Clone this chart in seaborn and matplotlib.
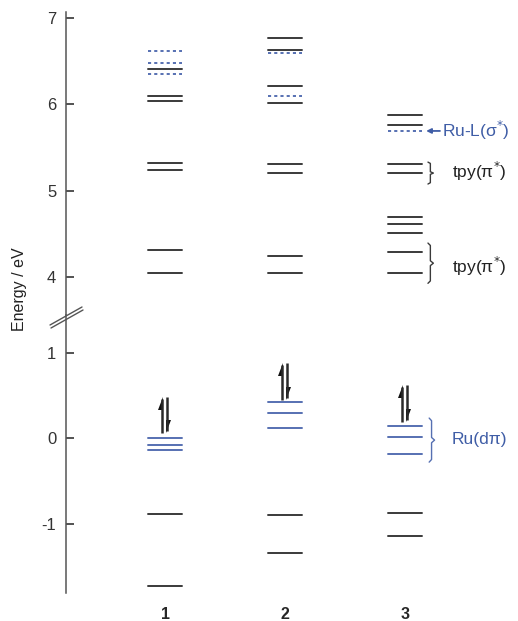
import matplotlib.pyplot as plt
import seaborn as sns
import pandas as pd
from matplotlib.lines import Line2D

sns.set_style('white')
plt.rcParams['font.family'] = ['Liberation Sans', 'DejaVu Sans']
plt.rcParams['axes.unicode_minus'] = False

# orbital energies (eV), per complex
complexes = [1, 2, 3]
tpy_levels = [[6.41, 6.09, 6.04, 5.32, 5.24, 4.31, 4.05, -0.89, -1.73],
              [6.76, 6.63, 6.21, 6.01, 5.31, 5.21, 4.25, 4.05, -0.90, -1.34],
              [5.88, 5.76, 5.31, 5.21, 4.70, 4.62, 4.51, 4.29, 4.05, -0.87, -1.14]]
sigma_levels = [[6.61, 6.48, 6.35],
                [6.59, 6.09],
                [5.69]]
d_levels = [[0.005, -0.08, -0.14],
            [0.42, 0.29, 0.115],
            [0.14, 0.016, -0.19]]
# electron pair arrows (bottom, top)
spin_bottom = [0.06, 0.445, 0.19]
spin_top = [0.48, 0.88, 0.62]

upper_ticks = [4, 5, 6, 7]
lower_ticks = [-1, 0, 1]

black = '#3a3a3a'
blue = '#5670b2'
dark_blue = '#3f5da6'

rows = []
n = 0
for c, tl, sl, dl in zip(complexes, tpy_levels, sigma_levels, d_levels):
    for kind, lv in [('tpy', tl), ('sigma', sl), ('d', dl)]:
        for e in lv:
            for dx in (-0.142, 0.142):
                rows.append({'x': c + dx, 'E': e, 'kind': kind, 'lvl': n})
            n += 1
df = pd.DataFrame(rows)

fig = plt.figure(figsize=(5.18, 6.21), dpi=100)
ax_up = fig.add_axes([66/518, 1-315/621, 1-66/518, 303/621])
ax_lo = fig.add_axes([66/518, 1-593/621, 1-66/518, 278/621])

palette = {'tpy': black, 'sigma': blue, 'd': blue}
dashes = {'tpy': '', 'sigma': (1.6, 1.6), 'd': ''}
for ax, sub in [(ax_up, df[df['E'] > 3]), (ax_lo, df[df['E'] < 3])]:
    sns.lineplot(data=sub, x='x', y='E', units='lvl', estimator=None, hue='kind',
                 style='kind', palette=palette, dashes=dashes, lw=1.4,
                 legend=False, ax=ax)
    ax.set_xlim(0.175, 3.94)
    ax.set_xlabel('')
    ax.set_ylabel('')
    for s in ['top', 'right', 'bottom']:
        ax.spines[s].set_visible(False)
    ax.spines['left'].set_color('#555555')
    ax.spines['left'].set_linewidth(1.1)
    ax.tick_params(axis='y', left=True, direction='in', length=6, width=1.3,
                   color='#444444', labelsize=12, pad=7, labelcolor='#333333')

ax_up.set_ylim(3.564, 7.064)
ax_lo.set_ylim(-1.81, 1.44)
ax_up.set_yticks(upper_ticks)
ax_up.set_yticklabels([str(t) for t in upper_ticks])
ax_lo.set_yticks(lower_ticks)
ax_lo.set_yticklabels([str(t) for t in lower_ticks])
ax_up.set_xticks([])
ax_lo.set_xticks(complexes)
ax_lo.set_xticklabels([str(c) for c in complexes], fontweight='bold', fontsize=11.5)
ax_lo.tick_params(axis='x', length=0, pad=10)

# electron pairs drawn as harpoons (up: barb left, down: barb right)
hl, hw = 0.15, 0.035
for c, b, t in zip(complexes, spin_bottom, spin_top):
    xu, xd = c - 0.024, c + 0.016
    ax_lo.plot([xu, xu], [b, t - 0.02], color='#2a2a2a', lw=1.8, solid_capstyle='butt')
    ax_lo.fill([xu + 0.006, xu + 0.006, xu - hw], [t, t - hl, t - hl], color='#111111', lw=0)
    ax_lo.plot([xd, xd], [t, b + 0.02], color='#2a2a2a', lw=1.8, solid_capstyle='butt')
    ax_lo.fill([xd - 0.006, xd - 0.006, xd + hw], [b, b + hl, b + hl], color='#111111', lw=0)


def brace(ax, x, y0, y1, color):
    ym = (y0 + y1) / 2
    h = 0.06 * (y1 - y0)
    xs = [x - 0.02, x, x, x + 0.025, x, x, x - 0.02]
    ys = [y1, y1 - h, ym + h, ym, ym - h, y0 + h, y0]
    ax.plot(xs, ys, color=color, lw=1.0)


brace(ax_up, 3.21, 5.077, 5.33, black)
ax_up.text(3.39, 5.22, 'tpy(π$^{*}$)', fontsize=12.5, va='center', color='#222222')
brace(ax_up, 3.21, 3.93, 4.395, black)
ax_up.text(3.39, 4.12, 'tpy(π$^{*}$)', fontsize=12.5, va='center', color='#222222')
brace(ax_lo, 3.22, -0.28, 0.235, blue)
ax_lo.text(3.39, -0.02, 'Ru(dπ)', fontsize=12.5, va='center', color=dark_blue)

ax_up.annotate('', xy=(3.175, 5.69), xytext=(3.29, 5.69),
               arrowprops=dict(arrowstyle='-|>', color=dark_blue, lw=1.3, mutation_scale=7,
                               shrinkA=0, shrinkB=0))
ax_up.text(3.305, 5.69, 'Ru-L(σ$^{*}$)', fontsize=12.5, va='center', color=dark_blue,
           clip_on=False)

# axis break marks
for dy, dx in [(0, 0), (3, 1)]:
    fig.add_artist(Line2D([50/518 + dx/518, 82/518 + dx/518],
                          [1 - (325 + dy)/621, 1 - (307 + dy)/621],
                          color='#555555', lw=1.0))

fig.text(20/518, 1 - 289/621, 'Energy / eV', rotation=90, ha='center', va='center',
         fontsize=11.5, color='#222222')

plt.savefig('out.png', dpi=100)
